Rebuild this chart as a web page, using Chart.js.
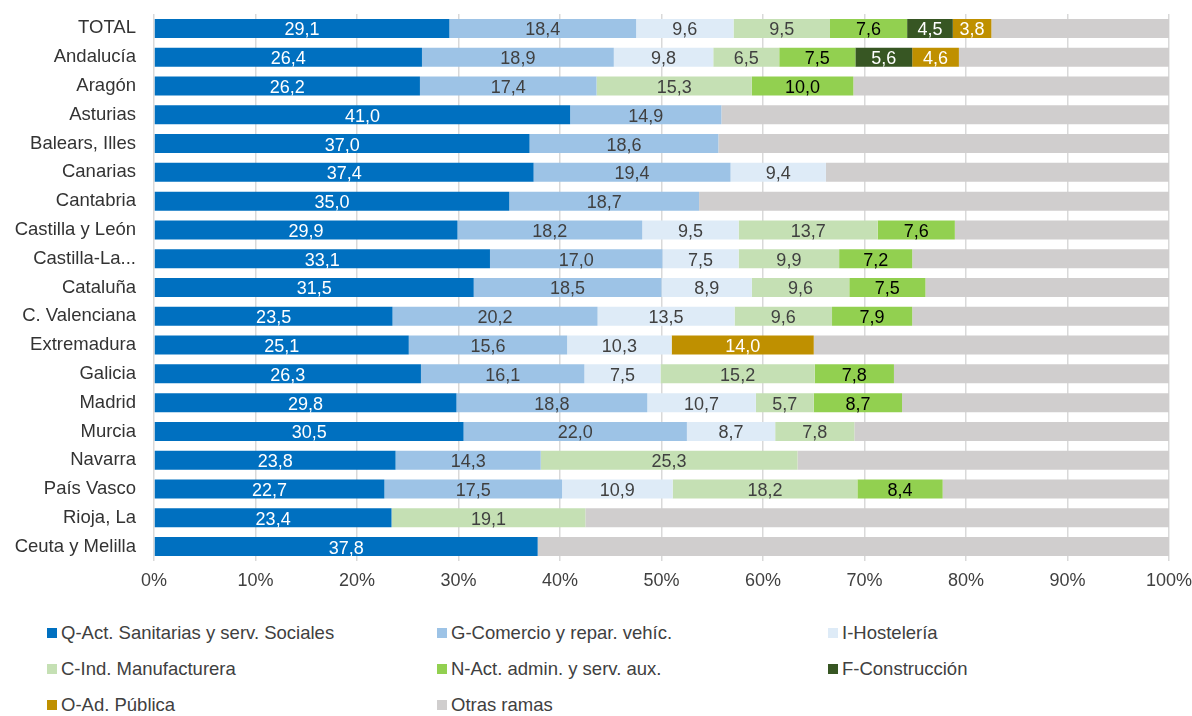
<!DOCTYPE html>
<html>
<head>
<meta charset="utf-8">
<script src="https://cdn.jsdelivr.net/npm/chart.js@4"></script>
<style>
  body { margin: 0; background: #fff; font-family: "Liberation Sans", Arial, sans-serif; }
  #wrap { position: relative; width: 1192px; height: 716px; }
  #legend { position: absolute; left: 0; top: 622px; width: 1192px; }
  .item { position: absolute; font-size: 18.5px; color: #404040; white-space: nowrap; line-height: 22px; }
  .item span { display: inline-block; width: 10px; height: 10px; margin-right: 4px; vertical-align: 1px; }
</style>
</head>
<body>
<div id="wrap">
  <canvas id="myChart" width="1192" height="600" style="width:1192px;height:600px"></canvas>
  <div id="legend"></div>
</div>
<script>
// regions (top to bottom)
const regions = ['TOTAL', 'Andalucía', 'Aragón', 'Asturias', 'Balears, Illes', 'Canarias', 'Cantabria',
  'Castilla y León', 'Castilla-La...', 'Cataluña', 'C. Valenciana', 'Extremadura', 'Galicia', 'Madrid',
  'Murcia', 'Navarra', 'País Vasco', 'Rioja, La', 'Ceuta y Melilla'];

// % of contracts per branch
const sanitarias  = [29.1, 26.4, 26.2, 41.0, 37.0, 37.4, 35.0, 29.9, 33.1, 31.5, 23.5, 25.1, 26.3, 29.8, 30.5, 23.8, 22.7, 23.4, 37.8];
const comercio    = [18.4, 18.9, 17.4, 14.9, 18.6, 19.4, 18.7, 18.2, 17.0, 18.5, 20.2, 15.6, 16.1, 18.8, 22.0, 14.3, 17.5, null, null];
const hosteleria  = [9.6, 9.8, null, null, null, 9.4, null, 9.5, 7.5, 8.9, 13.5, 10.3, 7.5, 10.7, 8.7, null, 10.9, null, null];
const manufact    = [9.5, 6.5, 15.3, null, null, null, null, 13.7, 9.9, 9.6, 9.6, null, 15.2, 5.7, 7.8, 25.3, 18.2, 19.1, null];
const adminAux    = [7.6, 7.5, 10.0, null, null, null, null, 7.6, 7.2, 7.5, 7.9, null, 7.8, 8.7, null, null, 8.4, null, null];
const construccion = [4.5, 5.6, null, null, null, null, null, null, null, null, null, null, null, null, null, null, null, null, null];
const adPublica   = [3.8, 4.6, null, null, null, null, null, null, null, null, null, 14.0, null, null, null, null, null, null, null];
const otras       = [17.5, 20.7, 31.1, 44.1, 44.4, 33.8, 46.3, 21.1, 25.3, 24.0, 25.3, 35.0, 27.1, 26.3, 31.0, 36.6, 22.3, 57.5, 62.2];

const xTicks = ['0%', '10%', '20%', '30%', '40%', '50%', '60%', '70%', '80%', '90%', '100%'];

const series = [
  { label: 'Q-Act. Sanitarias y serv. Sociales', data: sanitarias, color: '#0070C0', text: '#ffffff' },
  { label: 'G-Comercio y repar. vehíc.', data: comercio, color: '#9DC3E6', text: '#404040' },
  { label: 'I-Hostelería', data: hosteleria, color: '#DEEBF7', text: '#404040' },
  { label: 'C-Ind. Manufacturera', data: manufact, color: '#C5E0B4', text: '#404040' },
  { label: 'N-Act. admin. y serv. aux.', data: adminAux, color: '#92D050', text: '#000000' },
  { label: 'F-Construcción', data: construccion, color: '#375623', text: '#ffffff' },
  { label: 'O-Ad. Pública', data: adPublica, color: '#BF9000', text: '#ffffff' },
  { label: 'Otras ramas', data: otras, color: '#D0CECE', text: null }
];

const FONT = '"Liberation Sans", Arial, sans-serif';

// value labels in the middle of each segment
const barLabels = {
  id: 'barLabels',
  afterDatasetsDraw(chart) {
    const ctx = chart.ctx;
    ctx.save();
    ctx.font = '18px ' + FONT;
    ctx.textAlign = 'center';
    ctx.textBaseline = 'middle';
    chart.data.datasets.forEach((ds, i) => {
      if (!series[i].text) return;
      chart.getDatasetMeta(i).data.forEach((bar, j) => {
        const v = ds.data[j];
        if (v == null) return;
        ctx.fillStyle = series[i].text;
        ctx.fillText(v.toFixed(1).replace('.', ','), (bar.x + bar.base) / 2, bar.y + 2);
      });
    });
    ctx.restore();
  }
};

const ctx = document.getElementById('myChart').getContext('2d');
new Chart(ctx, {
  type: 'bar',
  data: {
    labels: regions,
    datasets: series.map(s => ({
      label: s.label,
      data: s.data,
      backgroundColor: s.color,
      borderWidth: 0,
      barPercentage: 0.66,
      categoryPercentage: 1
    }))
  },
  options: {
    indexAxis: 'y',
    responsive: false,
    animation: false,
    layout: { padding: { top: 14, right: 23, left: 0, bottom: 0 } },
    plugins: { legend: { display: false }, tooltip: { enabled: false } },
    scales: {
      x: {
        stacked: true,
        min: 0,
        max: 100,
        ticks: {
          stepSize: 10,
          color: '#404040',
          font: { family: FONT, size: 18 },
          padding: 9,
          callback: (v, i) => xTicks[i]
        },
        grid: { color: '#D9D9D9', lineWidth: 1.5, tickLength: 0 },
        border: { display: false },
        afterFit: scale => {
          scale.height = 39;
          scale.paddingLeft = 0;
          scale.paddingRight = 0;
        }
      },
      y: {
        stacked: true,
        ticks: {
          color: '#333333',
          font: { family: FONT, size: 18.5 },
          padding: 10,
          autoSkip: false
        },
        grid: { display: false },
        border: { display: false },
        afterFit: scale => {
          scale.width = 154;
          scale.paddingTop = 0;
          scale.paddingBottom = 0;
        }
      }
    }
  },
  plugins: [barLabels]
});

// legend, 3 columns
const legendCols = [47, 437, 828];
const legendRows = [0, 36, 72];
const legend = document.getElementById('legend');
series.forEach((s, i) => {
  const el = document.createElement('div');
  el.className = 'item';
  el.style.left = legendCols[i % 3] + 'px';
  el.style.top = legendRows[Math.floor(i / 3)] + 'px';
  el.innerHTML = '<span style="background:' + s.color + '"></span>' + s.label;
  legend.appendChild(el);
});
</script>
</body>
</html>
